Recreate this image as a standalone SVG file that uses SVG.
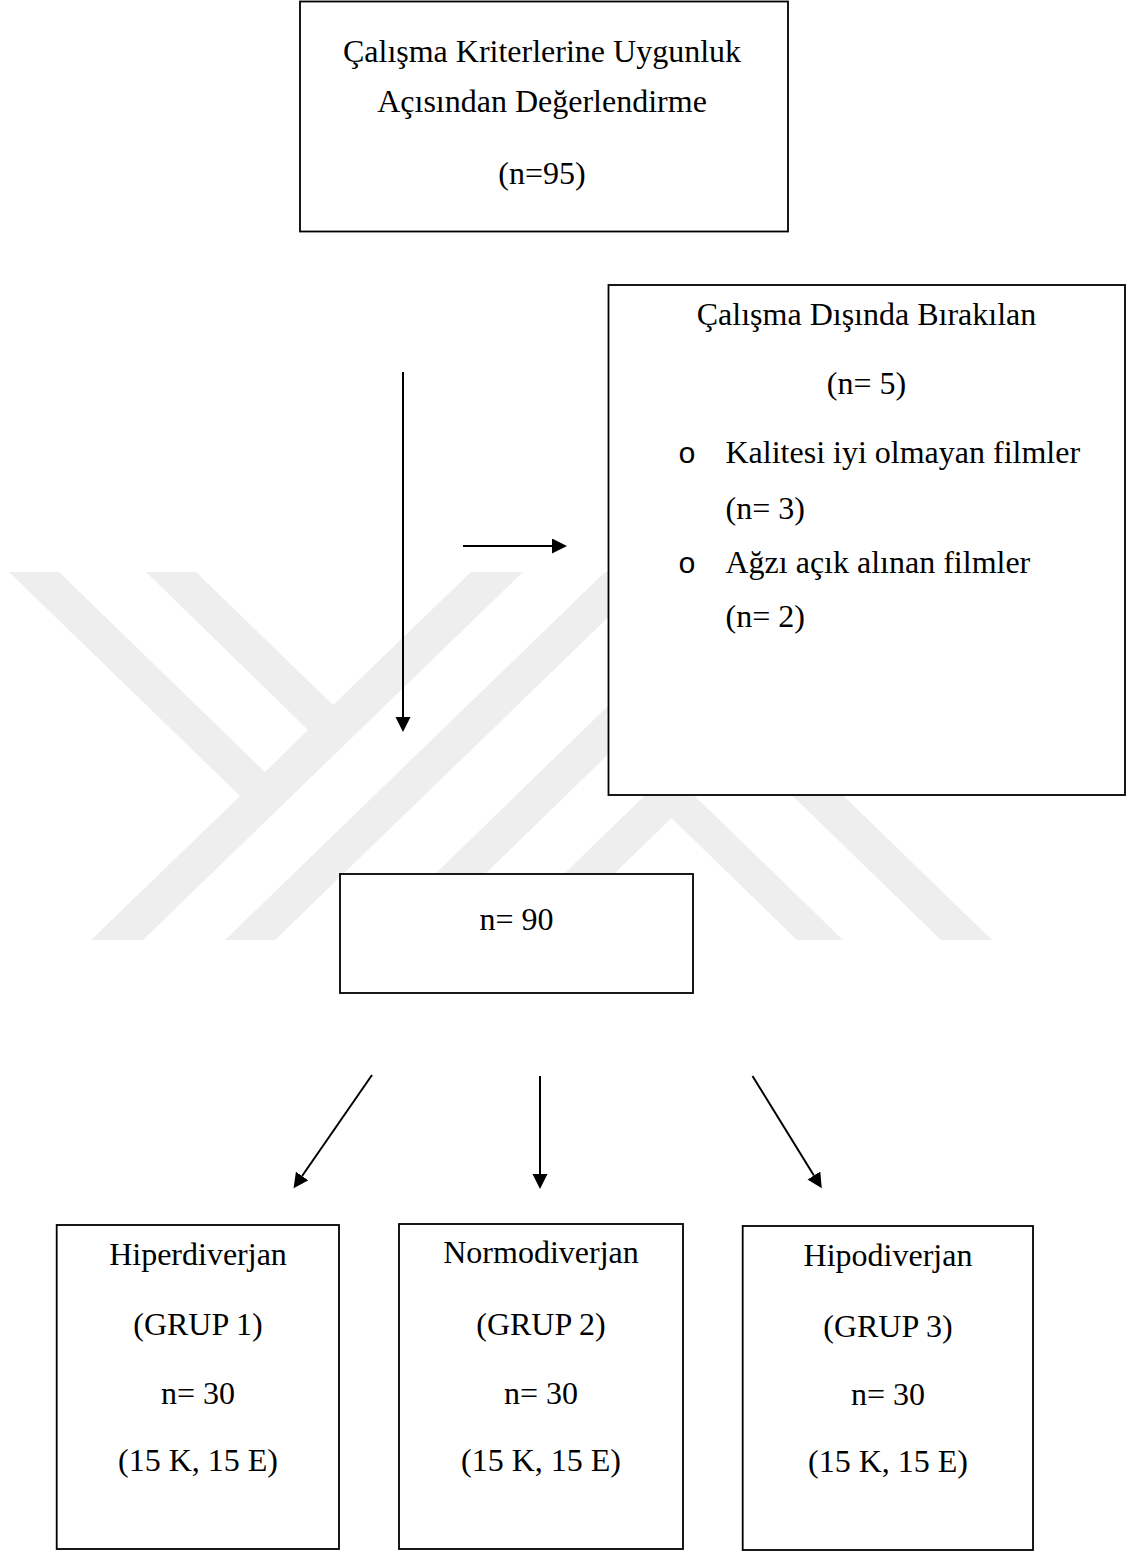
<svg xmlns="http://www.w3.org/2000/svg" width="1129" height="1553" viewBox="0 0 1129 1553">
<style>
text{font-family:"Liberation Serif","Times New Roman",serif;font-size:32px;fill:#000}
.c{text-anchor:middle}
.b{font-family:"Liberation Mono","Courier New",monospace;font-size:30px}
.box{fill:#fff;stroke:#000;stroke-width:1.8}
.wm{fill:#eeeeee;stroke:none}
.ln{stroke:#000;stroke-width:2;fill:none;marker-end:url(#ah)}
</style>
<defs>
<marker id="ah" markerUnits="userSpaceOnUse" markerWidth="16" markerHeight="16" refX="0" refY="7.5" orient="auto">
<path d="M0,0 L15,7.5 L0,15 z" fill="#000"/>
</marker>
</defs>
<rect width="1129" height="1553" fill="#fff"/>
<g id="watermark">
<polygon class="wm" points="9,572 59,572 265,772 308,730 146,572 196,572 333,705 471,572 523,572 143,940 91,940 240,796"/>
<polygon class="wm" points="225,940 275,940 655,572 605,572"/>
<polygon class="wm" points="367,940 679.5,636.6 992,940 941,940 679,685.6 417,940"/>
<polygon class="wm" points="496,940 669.5,771.5 843,940 797,940 671.5,818.1 546,940"/>
</g>
<g id="connectors">
<line class="ln" x1="403" y1="372" x2="403" y2="717"/>
<line class="ln" x1="463" y1="546" x2="552" y2="546"/>
<line class="ln" x1="372" y1="1075" x2="302.1" y2="1176"/>
<line class="ln" x1="540" y1="1076" x2="540" y2="1174"/>
<line class="ln" x1="752.5" y1="1076" x2="813.9" y2="1175.5"/>
</g>
<g id="node-evaluation">
<rect class="box" x="300" y="1.5" width="488" height="230"/>
<text class="c" x="542" y="62">Çalışma Kriterlerine Uygunluk</text>
<text class="c" x="542" y="112">Açısından Değerlendirme</text>
<text class="c" x="542" y="184">(n=95)</text>
</g>
<g id="node-excluded">
<rect class="box" x="608.5" y="285" width="516.5" height="510"/>
<text class="c" x="866.5" y="325">Çalışma Dışında Bırakılan</text>
<text class="c" x="866.5" y="394">(n= 5)</text>
<text class="b" x="678" y="463">o</text>
<text x="725.5" y="463">Kalitesi iyi olmayan filmler</text>
<text x="725.5" y="519">(n= 3)</text>
<text class="b" x="678" y="573">o</text>
<text x="725.5" y="573">Ağzı açık alınan filmler</text>
<text x="725.5" y="627">(n= 2)</text>
</g>
<g id="node-total">
<rect class="box" x="340" y="874" width="353" height="119"/>
<text class="c" x="516.5" y="930">n= 90</text>
</g>
<g id="node-group1">
<rect class="box" x="56.7" y="1225" width="282.3" height="324"/>
<text class="c" x="198" y="1265">Hiperdiverjan</text>
<text class="c" x="198" y="1335">(GRUP 1)</text>
<text class="c" x="198" y="1404">n= 30</text>
<text class="c" x="198" y="1471">(15 K, 15 E)</text>
</g>
<g id="node-group2">
<rect class="box" x="399" y="1224" width="284" height="325"/>
<text class="c" x="541" y="1263">Normodiverjan</text>
<text class="c" x="541" y="1335">(GRUP 2)</text>
<text class="c" x="541" y="1404">n= 30</text>
<text class="c" x="541" y="1471">(15 K, 15 E)</text>
</g>
<g id="node-group3">
<rect class="box" x="742.7" y="1226" width="290.3" height="324"/>
<text class="c" x="888" y="1266">Hipodiverjan</text>
<text class="c" x="888" y="1337">(GRUP 3)</text>
<text class="c" x="888" y="1405">n= 30</text>
<text class="c" x="888" y="1472">(15 K, 15 E)</text>
</g>
</svg>
